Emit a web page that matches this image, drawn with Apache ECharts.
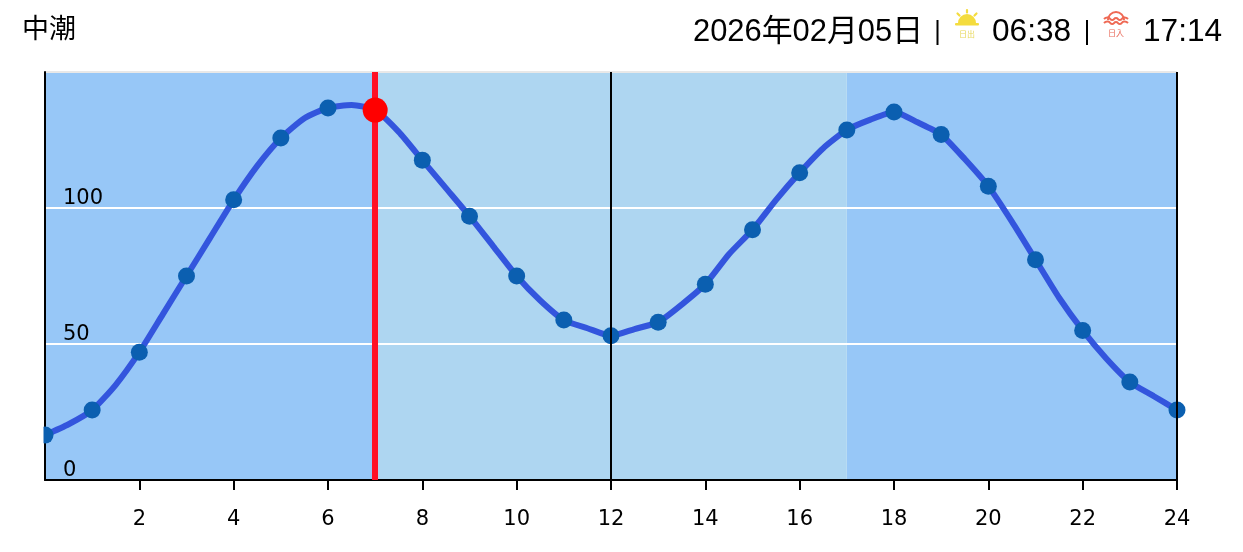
<!DOCTYPE html>
<html>
<head>
<meta charset="utf-8">
<title>中潮</title>
<style>
html,body{margin:0;padding:0;background:#fff;}
#tide{width:1243px;height:552px;}
</style>
<script src="https://cdn.jsdelivr.net/npm/echarts@6/dist/echarts.min.js"></script>
</head>
<body>
<div id="tide"></div>
<script>
"use strict";
// one value every half hour
var curveHours = [0,0.5,1,1.5,2,2.5,3,3.5,4,4.5,5,5.5,6,6.5,7,7.5,8,8.5,9,9.5,10,10.5,11,11.5,12,
    12.5,13,13.5,14,14.5,15,15.5,16,16.5,17,17.5,18,18.5,19,19.5,20,20.5,21,21.5,22,22.5,23,23.5,24];
var curveValues = [16.5,20.5,25.7,35,47,61,75,89,103,115.5,125.7,133,136.8,137.9,136,128,117.6,107.3,97,86,75,66,58.8,55.8,53,
    55.5,58,64.5,72,83,92,103,113,122,128.7,132.5,135.3,131.5,127,118,108,95,81,67,55,44.7,36,30.9,25.7];
var hourHours = [0,1,2,3,4,5,6,7,8,9,10,11,12,13,14,15,16,17,18,19,20,21,22,23,24];
var hourValues = [16.5,25.7,47,75,103,125.7,136.8,136,117.6,97,75,58.8,53,58,72,92,113,128.7,135.3,127,108,81,55,36,25.7];
var nowHour = 7;
var nowValue = 136;
var nightBands = [[0,7],[17,24]];
var dayBands = [[7,17]];
var xTickLabels = [2,4,6,8,10,12,14,16,18,20,22,24];
var yTickLabels = [0,50,100];

var title = '中潮';
var dateText = '2026年02月05日';
var sunriseText = '06:38';
var sunsetText = '17:14';

var headFont = '"Liberation Sans","Noto Sans CJK JP",sans-serif';
var axisFont = '"DejaVu Sans",sans-serif';

function pairs(xs, ys) {
    return xs.map(function (x, i) { return [x, ys[i]]; });
}
function bands(list) {
    return list.map(function (b) { return [{xAxis: b[0]}, {xAxis: b[1]}]; });
}
function headText(x, top, text, size) {
    return {type: 'text', left: x, top: top, z: 10,
        style: {text: text, fill: '#000', font: size + 'px ' + headFont}};
}
function wave(x0, y, color) {
    return {type: 'polyline', silent: true, z: 10,
        shape: {smooth: 0.6, points: [[x0, y], [x0 + 4, y - 1.5], [x0 + 8, y + 1], [x0 + 12, y - 1], [x0 + 16, y + 1], [x0 + 20, y - 1.5], [x0 + 24, y]]},
        style: {stroke: color, lineWidth: 2, fill: null}};
}
function ray(x1, y1, x2, y2) {
    return {type: 'line', silent: true, z: 10, shape: {x1: x1, y1: y1, x2: x2, y2: y2},
        style: {stroke: '#f4dc3e', lineWidth: 2.2, lineCap: 'round'}};
}

var tideChart = echarts.init(document.getElementById('tide'));
tideChart.setOption({
    animation: false,
    grid: {left: 45, right: 66, top: 72, bottom: 72},
    xAxis: {
        type: 'value', min: 0, max: 24, interval: 2, z: 4,
        axisLine: {show: true, lineStyle: {color: '#000', width: 2}},
        axisTick: {show: true, length: 10, customValues: xTickLabels, lineStyle: {color: '#000', width: 2}},
        axisLabel: {
            color: '#000', fontFamily: axisFont, fontSize: 21, margin: 29, customValues: xTickLabels
        },
        splitLine: {show: false}
    },
    yAxis: {
        type: 'value', min: 0, max: 150, interval: 50, z: 2,
        axisLine: {show: true, lineStyle: {color: '#000', width: 2}},
        axisTick: {show: false},
        axisLabel: {
            inside: true, margin: 18, color: '#000', fontFamily: axisFont, fontSize: 21,
            verticalAlign: 'bottom', lineHeight: 18,
            formatter: function (v) { return yTickLabels.indexOf(v) >= 0 ? String(v) : ''; }
        },
        splitLine: {show: true, lineStyle: {color: ['#fff', '#fff', '#fff', '#e8e8e8'], width: 2}}
    },
    series: [
        {
            type: 'line', data: [], z: 0, silent: true,
            markArea: {silent: true, itemStyle: {color: '#97c7f7'}, data: bands(nightBands)}
        },
        {
            type: 'line', data: [], z: 0, silent: true,
            markArea: {silent: true, itemStyle: {color: '#aed6f1'}, data: bands(dayBands)}
        },
        {
            type: 'line', data: [], z: 1, silent: true,
            markLine: {
                silent: true, symbol: 'none', label: {show: false},
                lineStyle: {type: 'solid', color: '#000', width: 2},
                data: [
                    {xAxis: 12},
                    {xAxis: 24},
                    {xAxis: nowHour, lineStyle: {type: 'solid', color: '#ff1025', width: 6}}
                ]
            }
        },
        {
            type: 'line', data: pairs(curveHours, curveValues), z: 3, smooth: 0.2,
            showSymbol: false, lineStyle: {color: '#3355dd', width: 6}
        },
        {
            type: 'scatter', data: pairs(hourHours, hourValues), z: 3, clip: false,
            symbolSize: 17, itemStyle: {color: '#0b5fb0', opacity: 1}
        },
        {
            type: 'scatter', data: [[nowHour, nowValue]], z: 5, clip: false,
            symbolSize: 25, itemStyle: {color: '#ff0000', opacity: 1}
        }
    ],
    graphic: [
        // the first dot is cut off on its left side in the original
        {type: 'rect', silent: true, z: 100, shape: {x: 0, y: 424, width: 43.5, height: 22}, style: {fill: '#fff'}},
        headText(22, 17, title, 27),
        headText(693, 17, dateText, 30.9),
        {type: 'rect', silent: true, z: 10, shape: {x: 936.5, y: 20, width: 2, height: 25}, style: {fill: '#000'}},
        {type: 'sector', silent: true, z: 10, shape: {cx: 967, cy: 23, r: 9, r0: 0, startAngle: Math.PI, endAngle: Math.PI * 2},
            style: {fill: '#f4dc3e'}},
        {type: 'rect', silent: true, z: 10, shape: {x: 955, y: 23, width: 24, height: 2.5, r: 1}, style: {fill: '#f4dc3e'}},
        ray(967, 10, 967, 12.5),
        ray(957.5, 13.5, 959.5, 15.5),
        ray(976.5, 13.5, 974.5, 15.5),
        {type: 'text', silent: true, z: 10, left: 959, top: 30,
            style: {text: '日出', fill: '#e8d85c', font: '8px "Noto Sans CJK JP"'}},
        headText(992, 16, sunriseText, 31.6),
        {type: 'rect', silent: true, z: 10, shape: {x: 1086, y: 20, width: 2, height: 25}, style: {fill: '#000'}},
        {type: 'arc', silent: true, z: 10, shape: {cx: 1116, cy: 20, r: 8, startAngle: Math.PI, endAngle: Math.PI * 2},
            style: {stroke: '#ef6a55', lineWidth: 2, fill: null}},
        wave(1104, 19, '#ef6a55'),
        wave(1104, 23, '#ef6a55'),
        {type: 'text', silent: true, z: 10, left: 1108, top: 29,
            style: {text: '日入', fill: '#e86a5a', font: '8px "Noto Sans CJK JP"'}},
        headText(1143, 16, sunsetText, 31.6)
    ]
});
</script>
</body>
</html>
